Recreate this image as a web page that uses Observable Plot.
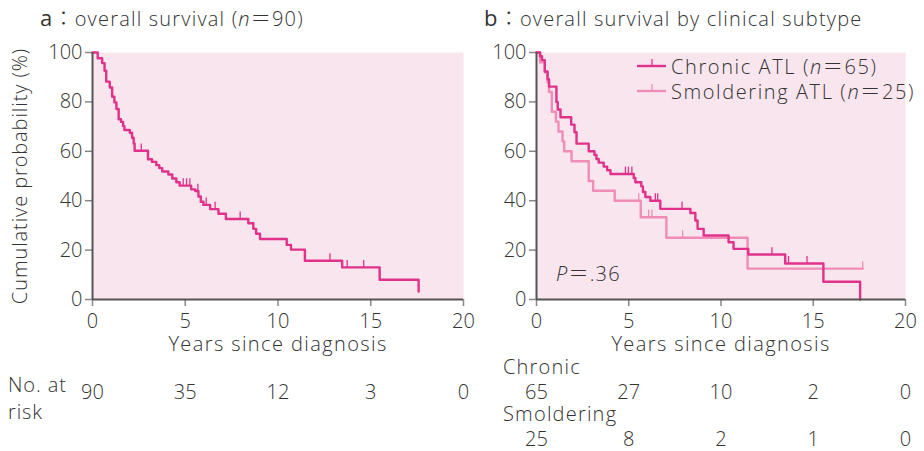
<!DOCTYPE html>
<html>
<head>
<meta charset="utf-8">
<script src="https://cdn.jsdelivr.net/npm/d3@7"></script>
<script src="https://cdn.jsdelivr.net/npm/@observablehq/plot@0.6"></script>
<style>
  html, body { margin: 0; padding: 0; background: #fff; }
  body { width: 924px; height: 451px; position: relative; overflow: hidden;
         font-family: "Open Sans", "Noto Sans CJK JP", sans-serif; font-weight: 300; color: #333; }
  .abs { position: absolute; white-space: nowrap; font-size: 20px; line-height: 1; letter-spacing: 1.2px; }
  #pa, #pb { position: absolute; top: 0; }
  #pa { left: 0; } #pb { left: 444px; }
  .leg { position: absolute; display: flex; align-items: center; font-size: 20px; white-space: nowrap; letter-spacing: 1.6px; }
  .leg svg { margin-right: 5px; }
  .cjk { font-family: "Noto Sans CJK JP", sans-serif; }
  g[aria-label="x-axis label"] text { letter-spacing: 1.4px; }
  g[aria-label="y-axis label"] text { letter-spacing: 0.9px; }
</style>
</head>
<body>
<div id="pa"></div>
<div id="pb"></div>
<div class="abs" style="left:40px; top:6px;"><span style="font-size:22px; font-weight:400">a</span><span class="cjk">：</span>overall survival (<i>n</i><span class="cjk">＝</span>90)</div>
<div class="abs" style="left:484px; top:6px;"><span style="font-size:22px; font-weight:400">b</span><span class="cjk">：</span>overall survival by clinical subtype</div>
<div class="abs" style="left:8px; top:371px; line-height:27px; letter-spacing:0.9px;">No. at<br>risk</div>
<div class="abs" style="left:503px; top:357px;">Chronic</div>
<div class="abs" style="left:503px; top:404px;">Smoldering</div>
<div class="abs" style="left:556px; top:263px;"><i>P</i><span class="cjk">＝</span>.36</div>
<div class="leg" style="left:637px; top:51px;" id="leg1"></div>
<div class="leg" style="left:637px; top:76px;" id="leg2"></div>
<script>
// ---- Panel a: overall survival (n=90) ----
const timesA = [0, 0.28, 0.52, 0.65, 0.74, 0.93, 1.06, 1.18, 1.29, 1.41, 1.54, 1.65, 1.72, 2.01, 2.13, 2.22, 2.27, 2.99, 3.21, 3.44, 3.6, 3.76, 4.09, 4.3, 4.52, 4.7, 5.32, 5.54, 5.71, 5.84, 5.98, 6.34, 6.79, 7.19, 8.4, 8.67, 8.82, 9.03, 10.47, 10.7, 11.45, 13.46, 15.48, 17.58];
const survA  = [100, 97.7, 95.7, 92.6, 88.2, 85.8, 82.1, 79.8, 77.1, 73.0, 71.9, 70.2, 68.6, 67.5, 65.5, 63.2, 60.2, 56.8, 55.7, 54.4, 53.2, 51.8, 50.6, 49.0, 47.5, 46.1, 44.6, 43.9, 41.7, 39.6, 38.3, 36.6, 34.7, 32.6, 30.9, 28.6, 26.6, 24.5, 22.1, 20.2, 15.7, 13.0, 8.0, 3.2];
const censorA = [2.63, 4.89, 5.07, 5.25, 5.68, 6.13, 6.61, 7.96, 12.8, 13.73, 14.62];

// ---- Panel b: chronic ATL (n=65) ----
const timesChronic = [0, 0.19, 0.3, 0.45, 0.6, 0.68, 1.08, 1.15, 1.3, 1.88, 2.06, 2.17, 2.83, 3.14, 3.25, 3.37, 3.64, 3.83, 4.01, 5.27, 5.36, 5.68, 5.77, 5.9, 6.17, 6.71, 8.34, 8.61, 8.73, 9.06, 10.41, 10.68, 11.48, 13.48, 15.55, 17.54];
const survChronic  = [100, 98.5, 96.9, 92.3, 89.2, 86.2, 80.0, 76.9, 73.8, 70.8, 67.7, 63.1, 60.0, 58.5, 56.9, 55.4, 53.8, 52.3, 50.8, 49.2, 47.5, 45.8, 43.5, 41.5, 40.0, 36.7, 35.0, 32.0, 28.6, 25.9, 23.2, 20.5, 18.2, 14.6, 7.2, 0];
const censorChronic = [4.82, 4.98, 5.17, 6.44, 6.57, 7.89, 12.76, 13.66, 14.66];

// ---- Panel b: smoldering ATL (n=25) ----
const timesSmold = [0, 0.2, 0.45, 0.6, 0.68, 0.83, 1.05, 1.19, 1.41, 1.5, 1.9, 2.83, 3.07, 4.24, 5.65, 7.04, 11.44, 17.68];
const survSmold  = [100, 96, 92, 88, 84, 76, 72, 68, 64, 60, 56, 48, 44, 40, 33.3, 25, 12.5, 12.5];
const censorSmold = [5.54, 6.08, 6.26, 7.92, 17.68];

// ---- Numbers at risk ----
const riskTimes = [0, 5, 10, 15, 20];
const riskAll = [90, 35, 12, 3, 0];
const riskChronic = [65, 27, 10, 2, 0];
const riskSmold = [25, 8, 2, 1, 0];

const xTicks = [0, 5, 10, 15, 20];
const yTicks = [0, 20, 40, 60, 80, 100];

const BG = "#f8e5ee", DARK = "#e0328a", LIGHT = "#ef8db7";
const FONT = "'Open Sans', 'Noto Sans CJK JP', sans-serif";

const curve = (t, s) => t.map((d, i) => ({t: d, s: s[i]}));
const levelAt = (t, s, x) => { let v = s[0]; for (let i = 0; i < t.length; i++) if (t[i] <= x) v = s[i]; return v; };
const cens = (c, t, s) => c.map(x => ({t: x, s: levelAt(t, s, x)}));
const risk = (n) => riskTimes.map((t, i) => ({t, n: n[i]}));

function panel({width, marginLeft, marginRight, yLabel, series, riskRows}) {
  const marks = [
    Plot.frame({fill: BG, stroke: null}),
    Plot.axisX({ticks: xTicks, tickSize: 7, tickPadding: 7, stroke: "#888", strokeWidth: 1.5,
      label: "Years since diagnosis", labelAnchor: "center", labelArrow: "none", labelOffset: 51}),
    Plot.axisY({ticks: yTicks, tickSize: 7, tickPadding: 3, stroke: "#888", strokeWidth: 1.5,
      label: yLabel, labelAnchor: "center", labelArrow: "none", labelOffset: 80}),
  ];
  for (const sr of series) {
    marks.push(Plot.line(sr.data, {x: "t", y: "s", curve: "step-after", stroke: sr.color, strokeWidth: 2.4}));
    marks.push(Plot.ruleX(sr.cens, {x: "t", y1: "s", y2: d => d.s + 2.8, stroke: sr.color, strokeWidth: 1.3}));
  }
  marks.push(Plot.ruleX([0], {stroke: "#555", strokeWidth: 2}));
  marks.push(Plot.ruleY([0], {stroke: "#555", strokeWidth: 2}));
  for (const r of riskRows) {
    marks.push(Plot.text(r.rows, {x: "t", y: () => 0, text: d => String(d.n), dy: r.dy, fontSize: 20, fill: "#333"}));
  }
  return Plot.plot({
    width, height: 451,
    marginLeft, marginRight, marginTop: 52, marginBottom: 152,
    x: {domain: [0, 20]},
    y: {domain: [0, 100]},
    style: {fontFamily: FONT, fontWeight: 300, fontSize: "20px", color: "#333", background: "transparent", overflow: "visible"},
    marks
  });
}

document.getElementById("pa").append(panel({
  width: 470, marginLeft: 92, marginRight: 7, yLabel: "Cumulative probability (%)",
  series: [{data: curve(timesA, survA), cens: cens(censorA, timesA, survA), color: DARK}],
  riskRows: [{rows: risk(riskAll), dy: 93}]
}));

document.getElementById("pb").append(panel({
  width: 480, marginLeft: 92, marginRight: 19, yLabel: null,
  series: [
    {data: curve(timesSmold, survSmold), cens: cens(censorSmold, timesSmold, survSmold), color: LIGHT},
    {data: curve(timesChronic, survChronic), cens: cens(censorChronic, timesChronic, survChronic), color: DARK}
  ],
  riskRows: [{rows: risk(riskChronic), dy: 93}, {rows: risk(riskSmold), dy: 140}]
}));

// legend
function legItem(id, color, label) {
  const el = document.getElementById(id);
  el.innerHTML = `<svg width="29" height="24"><line x1="0" x2="29" y1="12" y2="12" stroke="${color}" stroke-width="2.4"/><line x1="15" x2="15" y1="12" y2="5" stroke="${color}" stroke-width="1.3"/></svg><span>${label}</span>`;
}
legItem("leg1", DARK, "Chronic ATL (<i>n</i><span class='cjk'>＝</span>65)");
legItem("leg2", LIGHT, "Smoldering ATL (<i>n</i><span class='cjk'>＝</span>25)");
</script>
</body>
</html>
